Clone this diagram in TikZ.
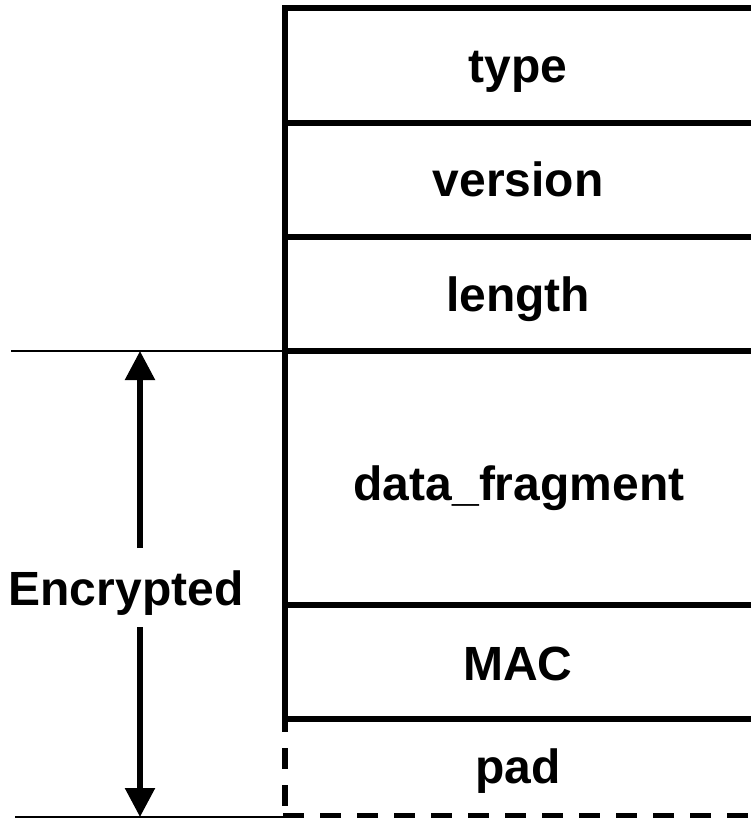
\documentclass[tikz,border=0pt]{standalone}
\usepackage{fontspec}
\setmainfont{Liberation Sans}
\usetikzlibrary{arrows.meta}
\begin{document}
\begin{tikzpicture}[x=1pt,y=-1pt,
  field/.style={anchor=base,font=\fontsize{48}{58}\selectfont\bfseries,inner sep=0pt},
  thick line/.style={line width=5.5pt,black},
  thin line/.style={line width=2.2pt,black},
  dash line/.style={line width=5.5pt,black,dash pattern=on 21pt off 16pt},
  tip/.style={-{Triangle[width=29pt,length=29pt]}, line width=5.5pt}]
\useasboundingbox (0,0) rectangle (751,818);
% box outline
\draw[thick line] (285,722) -- (285,8) -- (751,8);
\foreach \y in {123,237,351,605,719}
  \draw[thick line] (282.25,\y) -- (751,\y);
% pad (dashed)
\draw[dash line,dash phase=8] (285,719) -- (285,816);
\draw[dash line] (283,816) -- (751,816);
% field labels
\node[field] (type) at (518,83) {type};
\node[field] (version) at (518,197) {version};
\node[field] (length) at (518,311) {length};
\node[field] (data) at (519,500) {data\_fragment};
\node[field] (mac) at (518,680) {MAC};
\node[field] (pad) at (518,783) {pad};
% encrypted span
\draw[thin line] (11,351) -- (282,351);
\draw[thin line] (15,817) -- (285,817);
\coordinate (atop) at (140,351);
\coordinate (abot) at (140,817);
\coordinate (gtop) at (140,548);
\coordinate (gbot) at (140,627);
\node[field] (enc) at (126,605) {Encrypted};
\draw[tip] (gtop) -- (atop);
\draw[tip] (gbot) -- (abot);
\end{tikzpicture}
\end{document}
